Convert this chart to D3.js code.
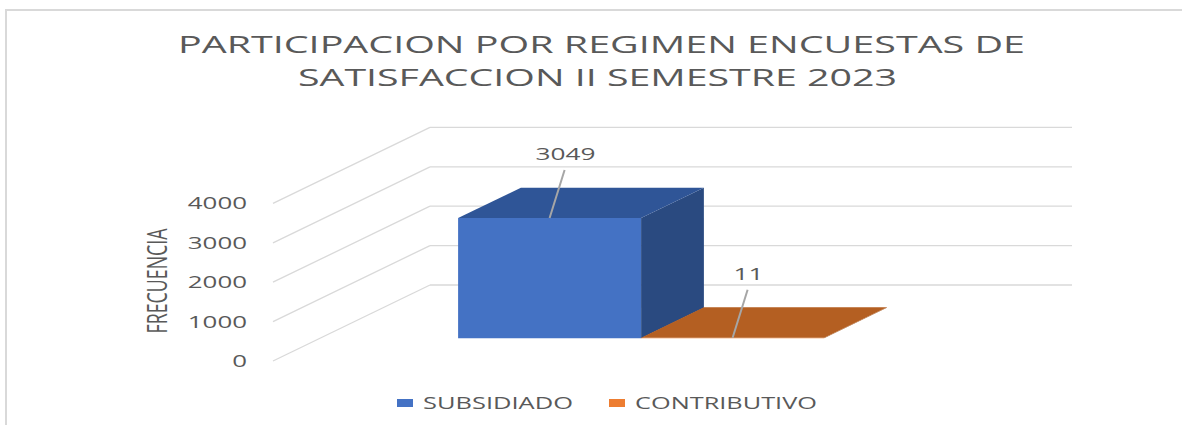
<!DOCTYPE html>
<meta charset="utf-8">
<html>
<head>
  <title>Participacion por regimen</title>
  <style>
    body { margin: 0; background: #fff; }
    text { font-family: "Open Sans", "Noto Sans", sans-serif; fill: #595959; }
  </style>
</head>
<body>
  <svg id="chart" width="1182" height="425"></svg>

  <script src="https://d3js.org/d3.v7.min.js"></script>
  <script>

    // data
    var series = ["SUBSIDIADO", "CONTRIBUTIVO"];
    var values = [3049, 11];
    var yTicks = [0, 1000, 2000, 3000, 4000];
    var titleLines = ["PARTICIPACION POR REGIMEN ENCUESTAS DE", "SATISFACCION II SEMESTRE 2023"];
    var axisTitle = "FRECUENCIA";

    var svg = d3.select("#chart"),
      width = +svg.attr("width"),
      height = +svg.attr("height");

    // front colours, top colours, side colours
    var frontColor = ["#4472C4", "#ED7D31"];
    var topColor = ["#2F5597", "#B45F22"];
    var sideColor = ["#2A4A80", "#9E5119"];

    // pseudo 3d setup: front plane + depth offset to the back wall
    var y0Front = 361;          // value 0 on front plane
    var depthX = 157, depthY = 76;
    var xFrontLeft = 273, xFrontRight = 915;

    var y = d3.scaleLinear()
      .domain([0, 4000])
      .range([0, 157.6]);

    var x = d3.scaleBand()
      .domain(series)
      .range([411, 777])
      .padding(0);

    // project a point (front x, value, depth fraction) to screen
    function P(xf, v, f) {
      return [xf + depthX * f, y0Front - depthY * f - y(v)];
    }

    // frame
    svg.append("path")
      .attr("d", "M6,425 L6,10 L1182,10")
      .attr("fill", "none")
      .attr("stroke", "#D9D9D9")
      .attr("stroke-width", 2);

    // title
    var titleLen = [847, 599];
    svg.selectAll(".title")
      .data(titleLines)
      .enter()
      .append("text")
      .attr("class", "title")
      .attr("x", function (d, i) { return i == 0 ? 178 : 298 })
      .attr("y", function (d, i) { return i == 0 ? 53 : 86 })
      .attr("textLength", function (d, i) { return titleLen[i] })
      .attr("lengthAdjust", "spacingAndGlyphs")
      .style("font-size", "23px")
      .text(function (d) { return d });

    // gridlines: side wall diagonals + back wall
    var grid = svg.append("g");
    grid.selectAll(".side")
      .data(yTicks)
      .enter()
      .append("line")
      .attr("x1", function (d) { return P(xFrontLeft, d, 0)[0] })
      .attr("y1", function (d) { return P(xFrontLeft, d, 0)[1] })
      .attr("x2", function (d) { return P(xFrontLeft, d, 1)[0] })
      .attr("y2", function (d) { return P(xFrontLeft, d, 1)[1] })
      .attr("stroke", "#D9D9D9")
      .attr("stroke-width", 1.3);
    grid.selectAll(".back")
      .data(yTicks)
      .enter()
      .append("line")
      .attr("x1", function (d) { return P(xFrontLeft, d, 1)[0] })
      .attr("y1", function (d) { return P(xFrontLeft, d, 1)[1] })
      .attr("x2", function (d) { return P(xFrontRight, d, 1)[0] })
      .attr("y2", function (d) { return P(xFrontRight, d, 1)[1] })
      .attr("stroke", "#D9D9D9")
      .attr("stroke-width", 1.3);

    // tick labels
    svg.selectAll(".tick")
      .data(yTicks)
      .enter()
      .append("text")
      .attr("x", 247)
      .attr("y", function (d) { return y0Front - y(d) + 6 })
      .attr("text-anchor", "end")
      .attr("textLength", function (d) { return String(d).length * 14.8 })
      .attr("lengthAdjust", "spacingAndGlyphs")
      .style("font-size", "17px")
      .text(function (d) { return d });

    // axis title
    svg.append("text")
      .attr("transform", "translate(167,281) rotate(-90)")
      .attr("text-anchor", "middle")
      .attr("textLength", 105)
      .attr("lengthAdjust", "spacingAndGlyphs")
      .style("font-size", "28px")
      .text(axisTitle);

    // bars
    var f0 = 0.3, f1 = 0.7;
    var bars = svg.selectAll(".bar")
      .data(values)
      .enter()
      .append("g");

    function poly(pts) { return "M" + pts.map(function (p) { return p.join(",") }).join("L") + "Z" }

    bars.append("path")  // front
      .attr("d", function (d, i) {
        var xl = x(series[i]), xr = xl + x.bandwidth();
        return poly([P(xl, 0, f0), P(xr, 0, f0), P(xr, d, f0), P(xl, d, f0)]);
      })
      .attr("fill", function (d, i) { return frontColor[i] });
    bars.append("path")  // side
      .attr("d", function (d, i) {
        var xr = x(series[i]) + x.bandwidth();
        return poly([P(xr, 0, f0), P(xr, 0, f1), P(xr, d, f1), P(xr, d, f0)]);
      })
      .attr("fill", function (d, i) { return sideColor[i] });
    bars.append("path")  // top
      .attr("d", function (d, i) {
        var xl = x(series[i]), xr = xl + x.bandwidth();
        return poly([P(xl, d, f0), P(xr, d, f0), P(xr, d, f1), P(xl, d, f1)]);
      })
      .attr("fill", function (d, i) { return topColor[i] });

    // data labels with leader lines
    bars.append("line")
      .attr("x1", function (d, i) { return P(x(series[i]) + x.bandwidth() / 2, d, f0)[0] })
      .attr("y1", function (d, i) { return P(x(series[i]) + x.bandwidth() / 2, d, f0)[1] })
      .attr("x2", function (d, i) { return P(x(series[i]) + x.bandwidth() / 2, d, f0)[0] + 15 })
      .attr("y2", function (d, i) { return P(x(series[i]) + x.bandwidth() / 2, d, f0)[1] - 48 })
      .attr("stroke", "#A6A6A6")
      .attr("stroke-width", 2);
    bars.append("text")
      .attr("x", function (d, i) { return P(x(series[i]) + x.bandwidth() / 2, d, f0)[0] + 16 })
      .attr("y", function (d, i) { return P(x(series[i]) + x.bandwidth() / 2, d, f0)[1] - 58 })
      .attr("text-anchor", "middle")
      .attr("textLength", function (d) { return String(d).length * 15 })
      .attr("lengthAdjust", "spacingAndGlyphs")
      .style("font-size", "17px")
      .text(function (d) { return d });

    // legend
    var legX = [397, 609], legLen = [150, 182];
    var leg = svg.selectAll(".legend")
      .data(series)
      .enter()
      .append("g");
    leg.append("rect")
      .attr("x", function (d, i) { return legX[i] })
      .attr("y", 399)
      .attr("width", 16)
      .attr("height", 8)
      .attr("fill", function (d, i) { return frontColor[i] });
    leg.append("text")
      .attr("x", function (d, i) { return legX[i] + 26 })
      .attr("y", 409)
      .attr("textLength", function (d, i) { return legLen[i] })
      .attr("lengthAdjust", "spacingAndGlyphs")
      .style("font-size", "17px")
      .text(function (d) { return d });

  </script>
</body>
</html>
